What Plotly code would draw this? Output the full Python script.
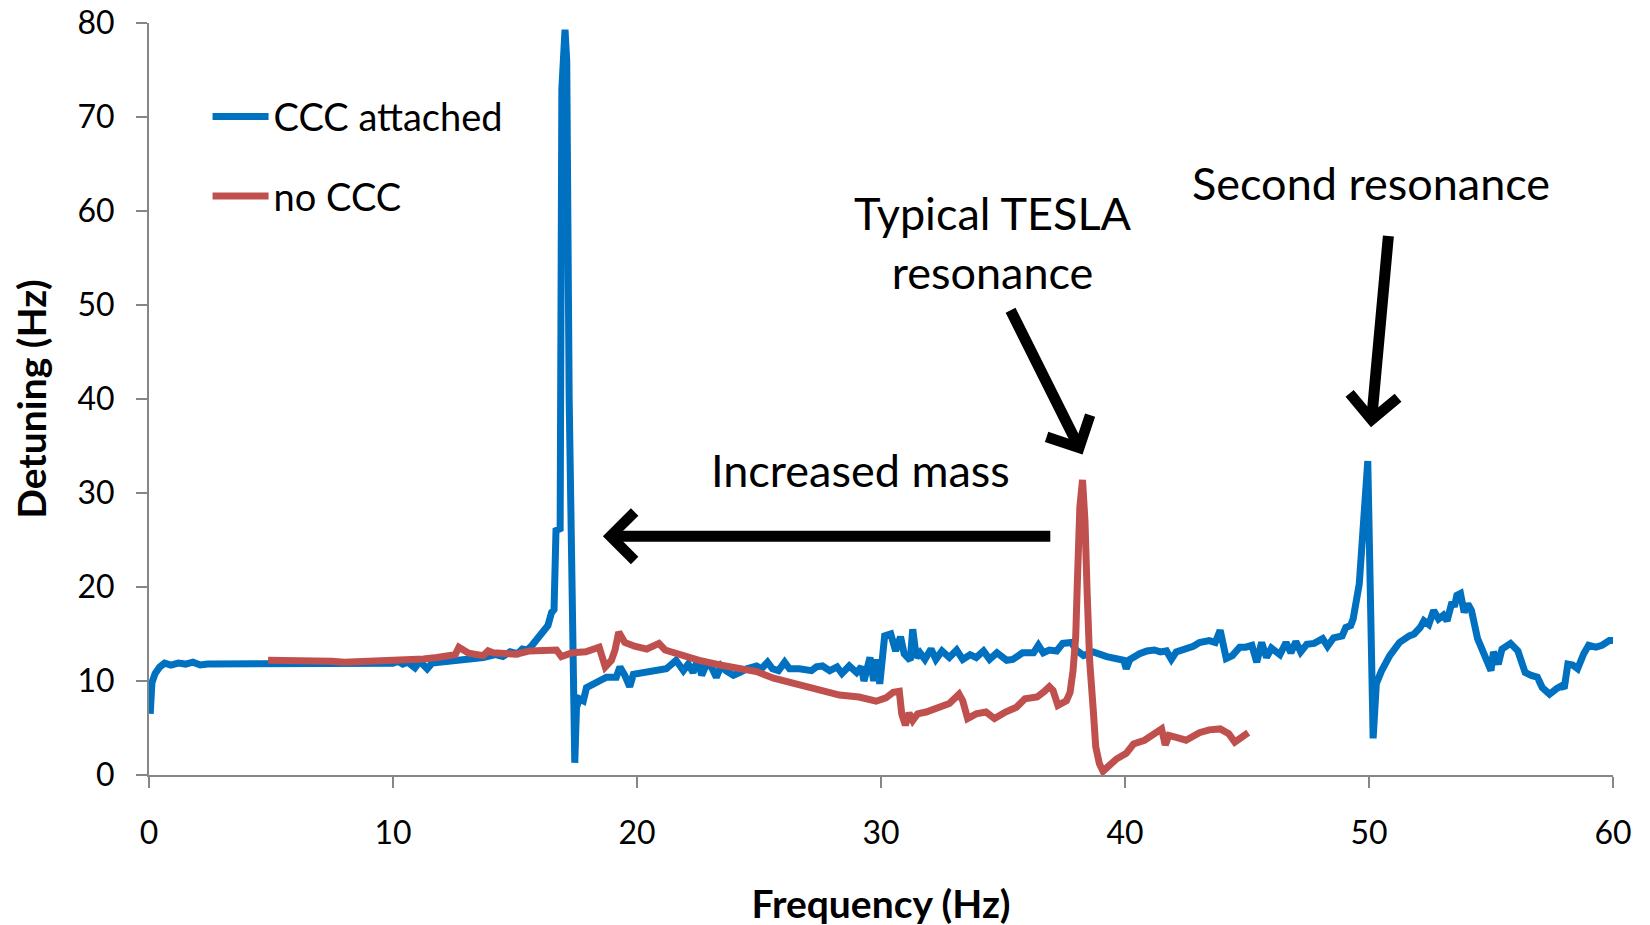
import plotly.graph_objects as go

# ---- data ----
blue_freq = [0.05, 0.12, 0.25, 0.44, 0.64, 0.9, 1.2, 1.5, 1.8, 2.1, 2.4, 2.8, 3.2, 3.6, 4.0, 4.5, 5.0, 5.5, 6.0, 6.5,
             7.0, 7.5, 8.0, 8.5, 9.0, 9.5, 10.0, 10.2, 10.4, 10.6, 10.9, 11.1, 11.4, 11.6, 12.0, 12.6, 13.0, 13.4, 13.7,
             14.2, 14.5, 14.8, 15.1, 15.3, 15.5, 15.7, 16.0, 16.2, 16.35, 16.5, 16.6, 16.68, 16.85, 16.92, 17.05, 17.12,
             17.22, 17.45, 17.52, 17.65, 17.8, 17.93, 18.2, 18.5, 18.75, 19.15, 19.3, 19.5, 19.7, 19.85, 20.4, 20.8,
             21.2, 21.6, 21.9, 22.1, 22.3, 22.5, 22.65, 22.85, 23.05, 23.25, 23.45, 23.65, 23.95, 24.2, 24.5, 24.9,
             25.1, 25.35, 25.55, 25.8, 26.05, 26.25, 26.65, 27.15, 27.35, 27.6, 27.9, 28.2, 28.4, 28.7, 29.0, 29.2,
             29.3, 29.55, 29.7, 29.8, 29.95, 30.15, 30.4, 30.6, 30.8, 30.95, 31.2, 31.3, 31.45, 31.6, 31.8, 32.05,
             32.25, 32.5, 32.8, 33.1, 33.35, 33.65, 33.9, 34.2, 34.45, 34.75, 35.15, 35.4, 35.8, 36.25, 36.45, 36.65,
             36.9, 37.2, 37.45, 37.8, 38.0, 38.3, 38.7, 39.25, 39.65, 39.95, 40.05, 40.2, 40.6, 40.9, 41.2, 41.45,
             41.7, 41.9, 42.1, 42.5, 42.8, 43.05, 43.45, 43.7, 43.9, 44.15, 44.4, 44.7, 44.95, 45.2, 45.4, 45.6, 45.8,
             46.0, 46.35, 46.6, 46.8, 47.0, 47.2, 47.45, 47.75, 48.1, 48.3, 48.55, 48.9, 49.05, 49.25, 49.35, 49.5,
             49.6, 49.95, 50.17, 50.3, 50.5, 50.85, 51.25, 51.65, 51.85, 52.1, 52.25, 52.45, 52.65, 52.85, 53.05,
             53.2, 53.4, 53.5, 53.6, 53.75, 53.9, 54.05, 54.2, 54.45, 54.65, 54.85, 55.0, 55.1, 55.3, 55.45, 55.8,
             56.1, 56.25, 56.4, 56.65, 56.9, 57.1, 57.4, 57.7, 57.9, 58.0, 58.15, 58.35, 58.55, 58.8, 59.0, 59.3,
             59.55, 59.85, 60.0]
blue_detuning = [6.5, 9.8, 10.8, 11.5, 11.9, 11.7, 11.9, 11.8, 12.0, 11.7, 11.8, 11.8, 11.9, 11.8, 11.85, 11.8, 11.8,
                 11.75, 11.8, 11.8, 11.85, 11.8, 11.8, 11.8, 11.85, 11.8, 11.9, 12.1, 11.8, 12.0, 11.4, 12.1, 11.3,
                 11.9, 12.0, 12.2, 12.3, 12.3, 12.5, 12.8, 12.6, 13.1, 12.9, 13.4, 13.3, 13.8, 14.8, 15.4, 15.9, 17.3,
                 17.6, 26.0, 26.2, 73.0, 79.3, 76.0, 40.0, 1.3, 7.2, 8.1, 7.9, 9.3, 9.7, 10.0, 10.4, 10.4, 11.5, 10.6,
                 9.4, 10.7, 11.0, 11.1, 11.3, 12.2, 11.1, 11.8, 10.9, 12.4, 10.6, 11.8, 11.5, 10.4, 11.6, 11.1, 10.6,
                 10.9, 11.3, 11.6, 11.3, 12.0, 11.3, 11.1, 12.0, 11.3, 11.3, 11.1, 11.5, 11.6, 11.1, 11.5, 10.8, 11.6,
                 10.9, 11.5, 10.0, 12.5, 10.0, 12.3, 9.7, 14.8, 15.0, 13.2, 14.7, 12.9, 12.2, 15.5, 12.5, 13.0, 12.3,
                 13.4, 12.3, 13.2, 12.5, 13.3, 12.3, 12.8, 12.5, 13.2, 12.3, 13.0, 12.2, 12.3, 13.0, 13.0, 13.8, 13.0,
                 13.3, 13.2, 14.0, 14.1, 13.3, 12.7, 13.1, 12.6, 12.3, 12.2, 11.3, 12.3, 12.9, 13.2, 13.3, 13.1, 13.2,
                 12.3, 13.1, 13.4, 13.7, 14.1, 14.3, 14.1, 15.4, 12.4, 12.7, 13.6, 13.6, 13.8, 12.0, 14.1, 12.5, 13.5,
                 12.8, 14.1, 13.0, 14.2, 13.1, 13.9, 14.0, 14.5, 13.7, 14.6, 14.8, 15.7, 15.9, 16.6, 19.3, 20.3, 33.4,
                 3.9, 9.7, 11.0, 12.7, 14.1, 14.8, 15.0, 15.7, 16.4, 16.0, 17.5, 16.6, 17.0, 16.4, 18.4, 17.9, 19.1,
                 19.3, 17.3, 18.2, 17.5, 14.5, 13.2, 11.8, 11.1, 13.1, 11.8, 13.4, 14.0, 13.2, 12.0, 10.9, 10.6, 10.4,
                 9.3, 8.6, 9.2, 9.5, 9.2, 11.8, 11.7, 11.3, 12.9, 13.8, 13.6, 13.8, 14.3, 14.3]

red_freq = [4.88, 5.5, 6.0, 6.5, 7.0, 7.5, 8.0, 8.5, 9.0, 9.5, 10.0, 10.55, 11.25, 11.8, 12.3, 12.55, 12.7, 12.9, 13.1,
            13.7, 13.9, 14.1, 14.65, 15.05, 15.6, 16.0, 16.5, 16.7, 16.9, 17.35, 17.9, 18.2, 18.45, 18.7, 18.95, 19.1,
            19.25, 19.5, 19.9, 20.4, 20.65, 20.9, 21.15, 21.6, 22.1, 22.55, 23.4, 24.2, 24.9, 25.6, 26.25, 26.95,
            27.6, 28.3, 29.1, 29.8, 30.2, 30.5, 30.75, 30.85, 31.0, 31.15, 31.3, 31.5, 31.85, 32.35, 32.8, 33.2,
            33.35, 33.55, 33.9, 34.3, 34.65, 35.1, 35.55, 35.9, 36.4, 36.7, 36.9, 37.05, 37.25, 37.6, 37.75, 37.87,
            37.98, 38.05, 38.15, 38.26, 38.36, 38.45, 38.55, 38.7, 38.8, 38.95, 39.1, 39.35, 39.65, 40.05, 40.35,
            40.8, 41.15, 41.5, 41.65, 41.8, 42.1, 42.5, 43.05, 43.45, 43.9, 44.25, 44.5, 44.7, 45.05]
red_detuning = [12.2, 12.2, 12.15, 12.2, 12.25, 12.1, 12.0, 12.05, 12.05, 12.1, 12.1, 12.1, 12.35, 12.5, 12.6, 12.8,
                13.6, 13.2, 12.95, 12.7, 13.2, 13.0, 12.9, 12.85, 13.2, 13.2, 13.3, 13.3, 12.6, 13.0, 13.1, 13.4, 13.6,
                11.5, 12.2, 13.3, 15.2, 14.1, 13.7, 13.4, 13.7, 14.0, 13.3, 12.9, 12.6, 12.2, 11.7, 11.3, 11.0, 10.3,
                9.9, 9.4, 9.0, 8.5, 8.3, 7.85, 8.2, 8.8, 8.9, 6.5, 5.3, 6.6, 5.8, 6.5, 6.7, 7.2, 7.6, 8.6, 7.9, 6.0,
                6.5, 6.7, 6.0, 6.7, 7.2, 8.1, 8.3, 8.9, 9.4, 9.0, 7.4, 7.9, 8.8, 11.1, 14.7, 20.7, 28.5, 31.4, 27.0,
                19.3, 12.2, 6.9, 3.0, 1.2, 0.4, 1.0, 1.7, 2.3, 3.3, 3.7, 4.2, 4.9, 3.2, 4.2, 4.0, 3.7, 4.5, 4.8, 4.9,
                4.4, 3.5, 3.9, 4.5]

series_names = ["CCC attached", "no CCC"]
x_ticks = [0, 10, 20, 30, 40, 50, 60]
y_ticks = [0, 10, 20, 30, 40, 50, 60, 70, 80]

# annotation texts with anchor (Hz, Hz) and arrows (tip, tail) in data units
labels = ["Increased mass", "Typical TESLA<br>resonance", "Second resonance"]
label_x = [29.17, 34.58, 50.07]
label_y = [32.5, 56.7, 63.0]
arrow_tip_x = [18.6, 38.26, 50.08]
arrow_tip_y = [25.4, 34.1, 37.0]
arrow_tail_x = [37.0, 35.28, 50.8]
arrow_tail_y = [25.4, 49.6, 57.5]

FONT = "Lato"
BLUE = "#0070C0"
RED = "#C0504D"
GREY = "#868686"

fig = go.Figure()
fig.add_trace(go.Scatter(x=blue_freq, y=blue_detuning, mode="lines", name=series_names[0],
                         legendgroup="a", line=dict(color=BLUE, width=7)))
fig.add_trace(go.Scatter(x=red_freq, y=red_detuning, mode="lines", name=series_names[1],
                         legendgroup="b", line=dict(color=RED, width=7)))

for t, x, y in zip(labels, label_x, label_y):
    fig.add_annotation(x=x, y=y, xref="x", yref="y", text=t, showarrow=False,
                       font=dict(family=FONT, size=45, color="black"))

for tx, ty, ax, ay in zip(arrow_tip_x, arrow_tip_y, arrow_tail_x, arrow_tail_y):
    fig.add_annotation(x=tx, y=ty, ax=ax, ay=ay, xref="x", yref="y", axref="x", ayref="y",
                       text="", showarrow=True, arrowhead=4, arrowwidth=11, arrowsize=0.85,
                       arrowcolor="black", standoff=0, startstandoff=0)

fig.update_layout(
    width=1650, height=925,
    margin=dict(l=141, r=45, t=15, b=158),
    paper_bgcolor="white", plot_bgcolor="white",
    font=dict(family=FONT, color="black"),
    showlegend=True,
    legend=dict(x=0.04, y=0.917, xanchor="left", yanchor="top", bgcolor="rgba(0,0,0,0)",
                font=dict(family=FONT, size=38), traceorder="grouped", tracegroupgap=27,
                itemwidth=56),
    xaxis=dict(range=[0, 60], tickvals=x_ticks, showgrid=False, zeroline=False, showline=True,
               linecolor=GREY, linewidth=2, ticks="outside", ticklen=11, tickwidth=2, tickcolor=GREY,
               tickfont=dict(family=FONT, size=32), ticklabelstandoff=18, automargin=False,
               ticklabeloverflow="allow",
               title=dict(text="<b>Frequency (Hz)</b>", font=dict(family=FONT, size=39), standoff=40)),
    yaxis=dict(range=[0, 80], tickvals=y_ticks, showgrid=False, zeroline=False, showline=True,
               linecolor=GREY, linewidth=2, ticks="outside", ticklen=11, tickwidth=2, tickcolor=GREY,
               tickfont=dict(family=FONT, size=32), ticklabelstandoff=15, automargin=False,
               ticklabeloverflow="allow",
               title=dict(text="<b>Detuning (Hz)</b>", font=dict(family=FONT, size=39), standoff=24)),
)

fig.write_html("out.html")
